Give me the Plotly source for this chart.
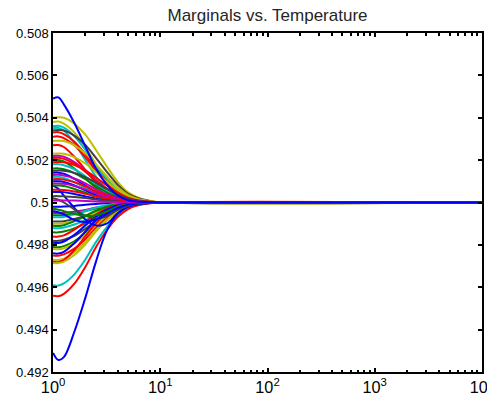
import plotly.graph_objects as go

# Temperature sample points (x axis, log scale)
temperature = [1, 1.12, 1.26, 1.58, 2.0, 2.51, 3.16, 3.98, 5.01, 6.31, 7.94, 10, 10000]
baseline = 0.5

# Marginal deviations from 0.5, in units of 1e-4
upper_colors = ["y", "y", "c", "c", "k", "r", "r", "y", "r", "y", "m", "r", "g", "r",
                "c", "g", "k", "b", "m", "c", "r", "b", "m", "g", "r", "b", "k", "m", "b"]
upper_curves = [
    [40, 40.2, 40, 37.2, 32, 24.8, 17.2, 10, 4.8, 2.2, 0.8, 0.1, 0],
    [38, 38.2, 37.2, 33.1, 26.2, 18.2, 11.4, 6.1, 2.7, 1.1, 0.3, 0, 0],
    [36, 36.2, 35.3, 31.3, 24.8, 17.3, 10.8, 5.8, 2.5, 1, 0.3, 0, 0],
    [35, 35.2, 34, 28, 20, 12.3, 6.3, 2.6, 0.9, 0.3, 0.1, 0, 0],
    [34, 34.2, 34, 31.6, 27.2, 21.1, 14.6, 8.5, 4.1, 1.9, 0.7, 0.1, 0],
    [33, 33.2, 32.3, 28.7, 22.8, 15.8, 9.9, 5.3, 2.3, 0.9, 0.3, 0, 0],
    [31, 31.2, 30.4, 27, 21.4, 14.9, 9.3, 5, 2.2, 0.9, 0.2, 0, 0],
    [29, 29.1, 29, 27, 23.2, 18, 12.5, 7.3, 3.5, 1.6, 0.6, 0.1, 0],
    [27, 27.1, 26.2, 21.6, 15.4, 9.5, 4.9, 2, 0.7, 0.2, 0.1, 0, 0],
    [23, 23.1, 23, 21.4, 18.4, 14.3, 9.9, 5.8, 2.8, 1.3, 0.5, 0.1, 0],
    [22, 22.1, 21.6, 19.1, 15.2, 10.6, 6.6, 3.5, 1.5, 0.6, 0.2, 0, 0],
    [21, 21.1, 20.6, 18.3, 14.5, 10.1, 6.3, 3.4, 1.5, 0.6, 0.2, 0, 0],
    [20, 20.1, 19.4, 16, 11.4, 7, 3.6, 1.5, 0.5, 0.2, 0, 0, 0],
    [19, 19.1, 19, 17.7, 15.2, 11.8, 8.2, 4.8, 2.3, 1, 0.4, 0.1, 0],
    [18, 18.1, 17.6, 15.7, 12.4, 8.6, 5.4, 2.9, 1.3, 0.5, 0.1, 0, 0],
    [16, 16.1, 15.7, 13.9, 11, 7.7, 4.8, 2.6, 1.1, 0.4, 0.1, 0, 0],
    [15, 15.1, 15, 14, 12, 9.3, 6.5, 3.8, 1.8, 0.8, 0.3, 0, 0],
    [14, 14.1, 13.6, 11.2, 8, 4.9, 2.5, 1.1, 0.4, 0.1, 0, 0, 0],
    [13, 13.1, 12.7, 11.3, 9, 6.2, 3.9, 2.1, 0.9, 0.4, 0.1, 0, 0],
    [12, 12.1, 11.6, 9.6, 6.8, 4.2, 2.2, 0.9, 0.3, 0.1, 0, 0, 0],
    [11, 11.1, 10.8, 9.6, 7.6, 5.3, 3.3, 1.8, 0.8, 0.3, 0.1, 0, 0],
    [10, 10, 9.7, 8, 5.7, 3.5, 1.8, 0.8, 0.3, 0.1, 0, 0, 0],
    [9, 9, 8.8, 7.8, 6.2, 4.3, 2.7, 1.4, 0.6, 0.3, 0.1, 0, 0],
    [8, 8, 7.8, 6.4, 4.6, 2.8, 1.4, 0.6, 0.2, 0.1, 0, 0, 0],
    [6, 6, 5.9, 5.2, 4.1, 2.9, 1.8, 1, 0.4, 0.2, 0, 0, 0],
    [5, 5, 4.9, 4, 2.9, 1.8, 0.9, 0.4, 0.1, 0, 0, 0, 0],
    [3, 3, 2.9, 2.6, 2.1, 1.4, 0.9, 0.5, 0.2, 0.1, 0, 0, 0],
    [1, 1, 1, 0.9, 0.7, 0.5, 0.3, 0.2, 0.1, 0, 0, 0, 0],
    [49, 49.6, 46.3, 37.5, 26.5, 16, 8.5, 3.5, 1.1, 0.4, 0.1, 0, 0],
]

crossing_colors = ["b", "k", "g", "b"]
crossing_curves = [
    [8, 6.5, 3.2, -2.5, -8, -10.8, -10, -5.2, -2, -0.8, -0.2, 0, 0],
    [2, 1.3, 0, -3.2, -6.2, -7.5, -6.5, -3.6, -1.5, -0.6, -0.1, 0, 0],
    [-3, -3.4, -4.1, -5.4, -6.4, -6, -4.2, -2.1, -0.8, -0.3, -0.1, 0, 0],
    [-4, -4.6, -5.6, -8.2, -9.2, -8, -5.5, -2.7, -1, -0.4, -0.1, 0, 0],
]

lower_colors = ["b", "m", "g", "c", "k", "y", "g", "c", "g", "r", "k", "b", "g", "y",
                "b", "r", "y", "r", "y", "c", "r", "b"]
lower_curves = [
    [-2, -2, -1.9, -1.6, -1.1, -0.7, -0.4, -0.2, 0, 0, 0, 0, 0],
    [-5, -5, -4.9, -4.4, -3.5, -2.4, -1.5, -0.8, -0.4, -0.1, 0, 0, 0],
    [-6, -6, -5.9, -5.2, -4.1, -2.9, -1.8, -1, -0.4, -0.2, 0, 0, 0],
    [-7, -7, -6.8, -5.6, -4, -2.5, -1.3, -0.5, -0.2, -0.1, 0, 0, 0],
    [-9, -9, -8.8, -7.8, -6.2, -4.3, -2.7, -1.4, -0.6, -0.3, -0.1, 0, 0],
    [-10, -10, -9.8, -8.7, -6.9, -4.8, -3, -1.6, -0.7, -0.3, -0.1, 0, 0],
    [-11, -11.1, -10.7, -8.8, -6.3, -3.9, -2, -0.8, -0.3, -0.1, 0, 0, 0],
    [-12, -12.1, -11.8, -10.4, -8.3, -5.8, -3.6, -1.9, -0.8, -0.3, -0.1, 0, 0],
    [-14, -14.1, -13.7, -12.2, -9.7, -6.7, -4.2, -2.2, -1, -0.4, -0.1, 0, 0],
    [-16, -16.1, -15.5, -12.8, -9.1, -5.6, -2.9, -1.2, -0.4, -0.1, 0, 0, 0],
    [-18, -18.1, -17.6, -15.7, -12.4, -8.6, -5.4, -2.9, -1.3, -0.5, -0.1, 0, 0],
    [-19, -19.1, -18.4, -15.2, -10.8, -6.7, -3.4, -1.4, -0.5, -0.2, 0, 0, 0],
    [-21, -21.1, -20.6, -18.3, -14.5, -10.1, -6.3, -3.4, -1.5, -0.6, -0.2, 0, 0],
    [-22, -22.1, -21.6, -19.1, -15.2, -10.6, -6.6, -3.5, -1.5, -0.6, -0.2, 0, 0],
    [-24, -24.1, -23.3, -19.2, -13.7, -8.4, -4.3, -1.8, -0.6, -0.2, 0, 0, 0],
    [-25, -25.1, -24.5, -21.8, -17.3, -12, -7.5, -4, -1.8, -0.7, -0.2, 0, 0],
    [-27, -27.1, -26.5, -23.5, -18.6, -13, -8.1, -4.3, -1.9, -0.8, -0.2, 0, 0],
    [-28, -28.1, -27.2, -22.4, -16, -9.8, -5, -2.1, -0.7, -0.2, -0.1, 0, 0],
    [-28.5, -28.6, -27.9, -24.8, -19.7, -13.7, -8.6, -4.6, -2, -0.8, -0.2, 0, 0],
    [-39, -39.2, -38.2, -33.9, -26.9, -18.7, -11.7, -6.2, -2.7, -1.1, -0.3, 0, 0],
    [-44, -44.2, -43.1, -38.3, -30.4, -21.1, -13.2, -7, -3.1, -1.2, -0.4, 0, 0],
    [-71, -74.3, -73, -61, -45, -28, -13.5, -5.5, -1.9, -0.6, -0.1, 0, 0],
]

x_label_alias = {"1": "10<sup>0</sup>", "10": "10<sup>1</sup>"}
minor_x_ticks = [m * d for d in (1, 10, 100, 1000) for m in range(2, 10)]
y_tick_vals = [0.492, 0.494, 0.496, 0.498, 0.5, 0.502, 0.504, 0.506, 0.508]
y_tick_text = ["0.492", "0.494", "0.496", "0.498", "0.5", "0.502", "0.504", "0.506", "0.508"]

palette = {"b": "#0000FF", "g": "#008000", "r": "#FF0000", "c": "#00BFBF",
           "m": "#BF00BF", "y": "#BFBF00", "k": "#404040"}
scale = 1e-4

fig = go.Figure()
for group_colors, group in ((lower_colors, lower_curves), (crossing_colors, crossing_curves),
                            (upper_colors, upper_curves)):
    for col, dev in zip(group_colors, group):
        fig.add_trace(go.Scatter(
            x=temperature, y=[baseline + d * scale for d in dev], mode="lines",
            line=dict(color=palette[col], width=2, shape="spline", smoothing=1.0),
            showlegend=False, hoverinfo="skip"))

# invisible helper trace so the minor-tick overlay axis is drawn
fig.add_trace(go.Scatter(x=[temperature[0]], y=[baseline], xaxis="x2", yaxis="y",
                         mode="lines", line=dict(width=0), showlegend=False,
                         hoverinfo="skip"))

x_range = [-0.0005, 4.0005]
font_family = "Liberation Sans, Arial, Helvetica, sans-serif"
fig.update_layout(
    width=487, height=396,
    margin=dict(l=53, r=5, t=33, b=24),
    paper_bgcolor="white", plot_bgcolor="white",
    font=dict(family=font_family, size=13, color="black"),
    title=dict(text="Marginals vs. Temperature", x=0.5, xref="paper",
               y=1 - 15 / 396, yref="container", yanchor="middle",
               font=dict(family=font_family, size=17, color="#262626")),
    showlegend=False,
    xaxis=dict(
        type="log", range=x_range, tickmode="linear", tick0=0, dtick=1,
        exponentformat="power", labelalias=x_label_alias, ticklabeloverflow="allow",
        automargin=False,
        ticks="inside", ticklen=4, tickwidth=1.5, tickcolor="black",
        showline=True, linecolor="black", linewidth=1.5, mirror="ticks",
        showgrid=False, zeroline=False, tickfont=dict(size=13),
    ),
    xaxis2=dict(
        type="log", range=x_range, overlaying="x", anchor="y", side="bottom",
        tickmode="array", tickvals=minor_x_ticks, showticklabels=False,
        ticks="inside", ticklen=2.5, tickwidth=1.5, tickcolor="black",
        showline=False, mirror="ticks", showgrid=False, zeroline=False,
        automargin=False,
    ),
    yaxis=dict(
        range=[0.492, 0.508], tickmode="array", tickvals=y_tick_vals, ticktext=y_tick_text,
        ticks="inside", ticklen=4, tickwidth=1.5, tickcolor="black",
        showline=True, linecolor="black", linewidth=1.5, mirror="ticks",
        showgrid=False, zeroline=False, tickfont=dict(size=13), automargin=False,
    ),
)

fig.write_html("out.html")
